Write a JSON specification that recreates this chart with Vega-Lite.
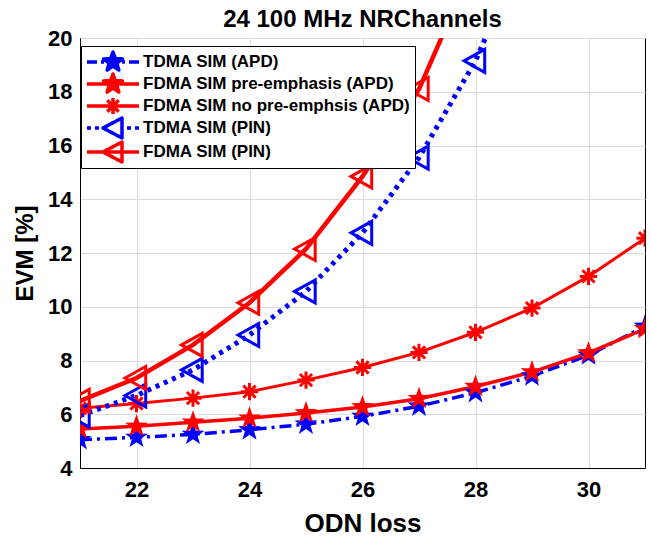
{
  "$schema": "https://vega.github.io/schema/vega-lite/v6.json",
  "width": 565,
  "height": 430,
  "autosize": {"type": "none"},
  "padding": {"left": 80, "top": 38, "right": 6, "bottom": 73},
  "background": "white",
  "title": {"text": "24 100 MHz NRChannels", "font": "Liberation Sans", "fontSize": 24, "fontWeight": "bold", "color": "black", "anchor": "middle", "baseline": "alphabetic", "offset": -24},
  "config": {
    "view": {"stroke": "black", "strokeWidth": 1},
    "axis": {
      "domainColor": "black",
      "domainWidth": 1,
      "ticks": false,
      "grid": true,
      "gridColor": "#dcdcdc",
      "gridWidth": 1,
      "labelFont": "Liberation Sans",
      "labelFontSize": 22,
      "labelFontWeight": "bold",
      "labelColor": "black",
      "titleFont": "Liberation Sans",
      "titleFontWeight": "bold",
      "titleColor": "black"
    }
  },
  "data": {
    "values": [
      {"odn": 21, "evm": 5.05, "series": "TDMA SIM (APD)"},
      {"odn": 22, "evm": 5.14, "series": "TDMA SIM (APD)"},
      {"odn": 23, "evm": 5.25, "series": "TDMA SIM (APD)"},
      {"odn": 24, "evm": 5.42, "series": "TDMA SIM (APD)"},
      {"odn": 25, "evm": 5.63, "series": "TDMA SIM (APD)"},
      {"odn": 26, "evm": 5.92, "series": "TDMA SIM (APD)"},
      {"odn": 27, "evm": 6.3, "series": "TDMA SIM (APD)"},
      {"odn": 28, "evm": 6.8, "series": "TDMA SIM (APD)"},
      {"odn": 29, "evm": 7.42, "series": "TDMA SIM (APD)"},
      {"odn": 30, "evm": 8.2, "series": "TDMA SIM (APD)"},
      {"odn": 31, "evm": 9.27, "series": "TDMA SIM (APD)"},
      {"odn": 21, "evm": 5.45, "series": "FDMA SIM pre-emphasis (APD)"},
      {"odn": 22, "evm": 5.55, "series": "FDMA SIM pre-emphasis (APD)"},
      {"odn": 23, "evm": 5.7, "series": "FDMA SIM pre-emphasis (APD)"},
      {"odn": 24, "evm": 5.85, "series": "FDMA SIM pre-emphasis (APD)"},
      {"odn": 25, "evm": 6.05, "series": "FDMA SIM pre-emphasis (APD)"},
      {"odn": 26, "evm": 6.27, "series": "FDMA SIM pre-emphasis (APD)"},
      {"odn": 27, "evm": 6.58, "series": "FDMA SIM pre-emphasis (APD)"},
      {"odn": 28, "evm": 7.03, "series": "FDMA SIM pre-emphasis (APD)"},
      {"odn": 29, "evm": 7.57, "series": "FDMA SIM pre-emphasis (APD)"},
      {"odn": 30, "evm": 8.28, "series": "FDMA SIM pre-emphasis (APD)"},
      {"odn": 31, "evm": 9.18, "series": "FDMA SIM pre-emphasis (APD)"},
      {"odn": 21, "evm": 6.22, "series": "FDMA SIM no pre-emphsis (APD)"},
      {"odn": 22, "evm": 6.4, "series": "FDMA SIM no pre-emphsis (APD)"},
      {"odn": 23, "evm": 6.6, "series": "FDMA SIM no pre-emphsis (APD)"},
      {"odn": 24, "evm": 6.84, "series": "FDMA SIM no pre-emphsis (APD)"},
      {"odn": 25, "evm": 7.27, "series": "FDMA SIM no pre-emphsis (APD)"},
      {"odn": 26, "evm": 7.74, "series": "FDMA SIM no pre-emphsis (APD)"},
      {"odn": 27, "evm": 8.3, "series": "FDMA SIM no pre-emphsis (APD)"},
      {"odn": 28, "evm": 9.05, "series": "FDMA SIM no pre-emphsis (APD)"},
      {"odn": 29, "evm": 9.95, "series": "FDMA SIM no pre-emphsis (APD)"},
      {"odn": 30, "evm": 11.13, "series": "FDMA SIM no pre-emphsis (APD)"},
      {"odn": 31, "evm": 12.55, "series": "FDMA SIM no pre-emphsis (APD)"},
      {"odn": 21, "evm": 5.95, "series": "TDMA SIM (PIN)"},
      {"odn": 22, "evm": 6.7, "series": "TDMA SIM (PIN)"},
      {"odn": 23, "evm": 7.65, "series": "TDMA SIM (PIN)"},
      {"odn": 24, "evm": 8.95, "series": "TDMA SIM (PIN)"},
      {"odn": 25, "evm": 10.57, "series": "TDMA SIM (PIN)"},
      {"odn": 26, "evm": 12.75, "series": "TDMA SIM (PIN)"},
      {"odn": 27, "evm": 15.55, "series": "TDMA SIM (PIN)"},
      {"odn": 28, "evm": 19.15, "series": "TDMA SIM (PIN)"},
      {"odn": 29, "evm": 24.0, "series": "TDMA SIM (PIN)"},
      {"odn": 21, "evm": 6.5, "series": "FDMA SIM (PIN)"},
      {"odn": 22, "evm": 7.35, "series": "FDMA SIM (PIN)"},
      {"odn": 23, "evm": 8.58, "series": "FDMA SIM (PIN)"},
      {"odn": 24, "evm": 10.15, "series": "FDMA SIM (PIN)"},
      {"odn": 25, "evm": 12.15, "series": "FDMA SIM (PIN)"},
      {"odn": 26, "evm": 14.85, "series": "FDMA SIM (PIN)"},
      {"odn": 27, "evm": 18.1, "series": "FDMA SIM (PIN)"},
      {"odn": 28, "evm": 22.9, "series": "FDMA SIM (PIN)"}
    ]
  },
  "encoding": {
    "x": {
      "field": "odn", "type": "quantitative",
      "scale": {"domain": [21, 31], "nice": false, "zero": false},
      "axis": {"values": [22, 24, 26, 28, 30], "title": "ODN loss", "titleFontSize": 26, "labelPadding": 11, "titlePadding": 10}
    },
    "y": {
      "field": "evm", "type": "quantitative",
      "scale": {"domain": [4, 20], "nice": false, "zero": false},
      "axis": {"values": [4, 6, 8, 10, 12, 14, 16, 18, 20], "title": "EVM [%]", "titleFontSize": 24, "labelPadding": 8, "titlePadding": 10}
    },
    "color": {
      "field": "series", "type": "nominal",
      "scale": {
        "domain": ["TDMA SIM (APD)", "FDMA SIM pre-emphasis (APD)", "FDMA SIM no pre-emphsis (APD)", "TDMA SIM (PIN)", "FDMA SIM (PIN)"],
        "range": ["#0000ff", "#ff0000", "#ff0000", "#0000ff", "#ff0000"]
      },
      "legend": {
        "orient": "none",
        "legendX": 1,
        "legendY": 8,
        "title": null,
        "fillColor": "white",
        "strokeColor": "black",
        "padding": 4,
        "symbolSize": 400,
        "labelOffset": 34,
        "rowPadding": -4,
        "labelLimit": 400,
        "labelFont": "Liberation Sans",
        "labelFontSize": 17,
        "labelFontWeight": "bold",
        "labelColor": "black",
        "encode": {
          "symbols": {
            "update": {
              "shape": {"signal": "datum.value == 'TDMA SIM (APD)' ? 'M-1,0L0,0M0.4,0L0.7,0M2.5,0L2.8,0M3.2,0L4.2,0M1.6,-1L1.84,-0.331L2.551,-0.309L1.98,0.124L2.188,0.809L1.6,0.4L1.012,0.809L1.22,0.124L0.649,-0.309L1.365,-0.331Z' : datum.value == 'FDMA SIM pre-emphasis (APD)' ? 'M-1,0L4.2,0M1.6,-1L1.84,-0.331L2.551,-0.309L1.98,0.124L2.188,0.809L1.6,0.4L1.012,0.809L1.22,0.124L0.649,-0.309L1.365,-0.331Z' : datum.value == 'FDMA SIM no pre-emphsis (APD)' ? 'M-1,0L4.2,0M1.6,-0.8L1.6,0.8M1.03,-0.57L2.17,0.57M1.03,0.57L2.17,-0.57' : datum.value == 'TDMA SIM (PIN)' ? 'M-1,0L-0.6,0M-0.2,0L0.2,0M3.0,0L3.4,0M3.8,0L4.2,0M0.6,0L2.5,-1L2.5,1Z' : 'M-1,0L4.2,0M0.6,0L2.5,-1L2.5,1Z'"},
              "fill": {"signal": "indexof(datum.value, 'TDMA') == 0 ? '#0000ff' : '#ff0000'"},
              "fillOpacity": {"signal": "(datum.value == 'TDMA SIM (APD)' || datum.value == 'FDMA SIM pre-emphasis (APD)') ? 1 : 0"},
              "stroke": {"signal": "indexof(datum.value, 'TDMA') == 0 ? '#0000ff' : '#ff0000'"},
              "strokeWidth": {"value": 3.5},
              "strokeJoin": {"value": "round"},
              "strokeDash": {"value": [1, 0]},
              "size": {"value": 400},
              "opacity": {"value": 1}
            }
          }
        }
      }
    }
  },
  "layer": [
    {
      "transform": [{"filter": "datum.series == 'TDMA SIM (APD)'"}],
      "mark": {"type": "line", "clip": true, "strokeDash": [12, 5, 3, 5], "strokeWidth": 3.5}
    },
    {
      "transform": [{"filter": "datum.series == 'FDMA SIM pre-emphasis (APD)'"}],
      "mark": {"type": "line", "clip": true, "strokeWidth": 3.5}
    },
    {
      "transform": [{"filter": "datum.series == 'FDMA SIM no pre-emphsis (APD)'"}],
      "mark": {"type": "line", "clip": true, "strokeWidth": 3}
    },
    {
      "transform": [{"filter": "datum.series == 'TDMA SIM (PIN)'"}],
      "mark": {"type": "line", "clip": true, "strokeDash": [4, 5], "strokeWidth": 5}
    },
    {
      "transform": [{"filter": "datum.series == 'FDMA SIM (PIN)'"}],
      "mark": {"type": "line", "clip": true, "strokeWidth": 4.5}
    },
    {
      "transform": [{"filter": "datum.series == 'TDMA SIM (APD)' || datum.series == 'FDMA SIM pre-emphasis (APD)'"}],
      "mark": {"type": "point", "filled": true, "size": 576, "opacity": 1, "clip": true,
        "shape": "M0,-1L0.235,-0.324L0.951,-0.309L0.38,0.124L0.588,0.809L0,0.4L-0.588,0.809L-0.38,0.124L-0.951,-0.309L-0.235,-0.324Z"}
    },
    {
      "transform": [{"filter": "datum.series == 'FDMA SIM no pre-emphsis (APD)'"}],
      "mark": {"type": "point", "filled": false, "size": 529, "strokeWidth": 3, "opacity": 1, "clip": true,
        "shape": "M-0.75,0L0.75,0M0,-0.75L0,0.75M-0.53,-0.53L0.53,0.53M-0.53,0.53L0.53,-0.53"}
    },
    {
      "transform": [{"filter": "datum.series == 'TDMA SIM (PIN)' || datum.series == 'FDMA SIM (PIN)'"}],
      "mark": {"type": "point", "filled": false, "size": 529, "strokeWidth": 3, "opacity": 1, "clip": true,
        "shape": "M-1,0L0.8,-1L0.8,1Z"}
    }
  ]
}
